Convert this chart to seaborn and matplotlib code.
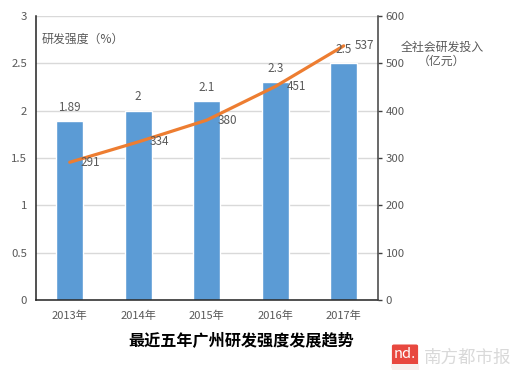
import pandas as pd
import seaborn as sns
import matplotlib.pyplot as plt
from matplotlib.patches import FancyBboxPatch, Rectangle

years = ['2013年', '2014年', '2015年', '2016年', '2017年']
intensity = [1.89, 2, 2.1, 2.3, 2.5]
investment = [291, 334, 380, 451, 537]
left_ticks = [0, 0.5, 1, 1.5, 2, 2.5, 3]
left_tick_labels = ['0', '0.5', '1', '1.5', '2', '2.5', '3']
right_ticks = [0, 100, 200, 300, 400, 500, 600]

sns.set_theme(style='white')
plt.rcParams['font.family'] = ['Noto Sans CJK SC', 'DejaVu Sans']

GRAY = '#595959'
W, H = 522, 378


def fx(px):
    return px / W


def fy(px):
    return 1 - px / H


df = pd.DataFrame({'year': years, 'intensity': intensity, 'investment': investment})

fig = plt.figure(figsize=(W / 100, H / 100), dpi=100, facecolor='white')
ax = fig.add_axes([fx(35.5), fy(300), fx(342.5), 284 / H])

sns.barplot(data=df, x='year', y='intensity', color='#5b9bd5', saturation=1,
            width=0.4, ax=ax, zorder=2)
ax.set_ylim(0, 3)
ax.set_yticks(left_ticks)
ax.set_yticklabels(left_tick_labels)
ax.set_xlabel('')
ax.set_ylabel('')
ax.grid(axis='y', color='#d9d9d9', linewidth=1)
ax.set_axisbelow(True)
ax.tick_params(axis='y', length=0, pad=6, labelsize=8.2, colors=GRAY)
ax.tick_params(axis='x', length=0, pad=7.5, labelsize=8, colors=GRAY)
for side in ['top', 'right']:
    ax.spines[side].set_visible(False)
for side in ['left', 'bottom']:
    ax.spines[side].set_color('#222222')
    ax.spines[side].set_linewidth(1.1)

ax2 = ax.twinx()
sns.lineplot(x=range(len(years)), y=investment, color='#ed7d31', linewidth=2.3, ax=ax2,
             solid_capstyle='round')
ax2.set_ylim(0, 600)
ax2.set_yticks(right_ticks)
ax2.grid(False)
ax2.tick_params(axis='y', length=3, width=1, color='#404040', pad=2.5, labelsize=8.2,
                labelcolor=GRAY, right=True)
for side in ['top', 'left', 'bottom']:
    ax2.spines[side].set_visible(False)
ax2.spines['right'].set_color('#404040')
ax2.spines['right'].set_linewidth(1.1)

# the twin's line margins stretch the shared x range, so put it back
ax.set_xlim(-0.5, len(years) - 0.5)

# data labels sit on the top axes so the line does not cover them
for i, v in enumerate(intensity):
    ax2.annotate(str(v), (i, v), xycoords=ax.transData, xytext=(0, 10),
                 textcoords='offset points', ha='center', va='center',
                 fontsize=8.4, color=GRAY)
for i, v in enumerate(investment):
    ax2.annotate(str(v), (i, v), xycoords=ax2.transData, xytext=(15, 0),
                 textcoords='offset points', ha='center', va='center',
                 fontsize=8.4, color=GRAY)

fig.text(fx(42), fy(39), '研发强度（%）', fontsize=8.6, color=GRAY, ha='left', va='center')
fig.text(fx(442), fy(47), '全社会研发投入', fontsize=8.6, color=GRAY, ha='center', va='center')
fig.text(fx(442), fy(61), '（亿元）', fontsize=8.6, color=GRAY, ha='center', va='center')
fig.text(fx(241.5), fy(341), '最近五年广州研发强度发展趋势', fontsize=11.6, fontweight='bold',
         color='black', ha='center', va='center')

# watermark
logo = FancyBboxPatch((fx(394), fy(368)), fx(22), 22 / H, boxstyle='round,pad=0.004',
                      transform=fig.transFigure, facecolor='#e8483f', edgecolor='none')
fig.add_artist(logo)
fig.add_artist(Rectangle((fx(391.5), fy(370)), fx(27), 6 / H, transform=fig.transFigure,
                         facecolor='#f7f0ee', edgecolor='none'))
fig.text(fx(405), fy(354), 'nd.', fontsize=10.5, color='white', fontstyle='italic',
         ha='center', va='center')
fig.text(fx(468), fy(358), '南方都市报', fontsize=12.6, color='#d9d9d9', ha='center', va='center')

fig.savefig('out.png', dpi=100)
